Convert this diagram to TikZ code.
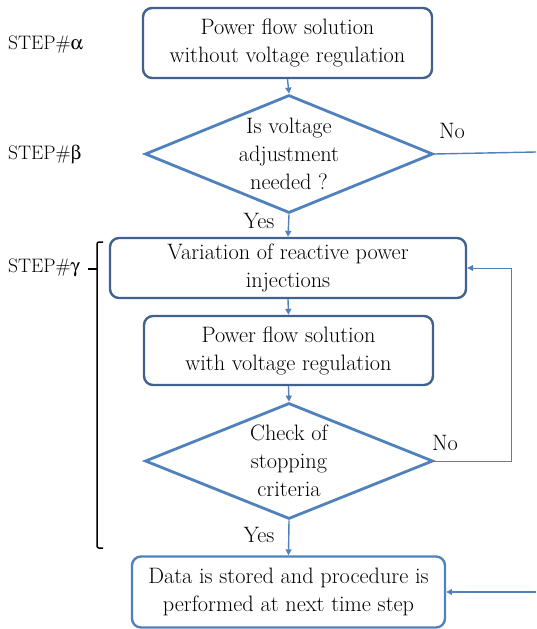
\documentclass[tikz,border=0pt]{standalone}
\usepackage{fontspec}
\usepackage[Symbol]{upgreek}
\usetikzlibrary{shapes.geometric,arrows.meta}
\definecolor{darkb}{HTML}{41628F}
\definecolor{lightb}{HTML}{4F81BD}
\begin{document}
\begin{tikzpicture}[x=1pt,y=-1pt,
  txt/.style={font=\fontsize{22.3}{28}\selectfont},
  boxd/.style={draw=darkb,line width=2.4pt,rounded corners=9pt,inner sep=0pt,align=center,txt},
  boxl/.style={draw=lightb,line width=2.4pt,rounded corners=9pt,inner sep=0pt,align=center,txt},
  dia/.style={draw=lightb,line width=2.8pt,diamond,shape aspect=2.44,minimum width=288pt,minimum height=118pt,inner sep=0pt,align=center,txt},
  arr/.style={draw=lightb,line width=1.4pt,-{Triangle[length=6pt,width=6pt]}},
  thin/.style={draw=lightb,line width=1pt},
  lbl/.style={txt,inner sep=0pt},
  steplbl/.style={font=\fontsize{19.5}{24}\selectfont,inner sep=0pt,anchor=west}]
\useasboundingbox (0,0) rectangle (536,629);
\node[boxd,minimum width=289pt,minimum height=70pt] (b1) at (287.5,43) {Power flow solution\\without voltage regulation};
\node[dia] (d1) at (289,154) {Is voltage\\adjustment\\needed ?};
\node[boxd,minimum width=356pt,minimum height=60pt] (b2) at (288,268) {Variation of reactive power\\injections};
\node[boxd,minimum width=289pt,minimum height=69pt] (b3) at (288.5,350.5) {Power flow solution\\with voltage regulation};
\node[dia,minimum height=116pt] (d2) at (289,461) {Check of\\stopping\\criteria};
\node[boxl,minimum width=313pt,minimum height=71pt] (b4) at (288.5,592) {Data is stored and procedure is\\performed at next time step};
\node[steplbl] (sa) at (8,45) {STEP\#$\upalpha$};
\node[steplbl] (sb) at (8,155) {STEP\#$\upbeta$};
\node[steplbl] (sg) at (8,268) {STEP\#$\upgamma$};
\node[lbl] (no1) at (452,131) {No};
\node[lbl] (no2) at (445,443) {No};
\node[lbl] (y1) at (259,221) {Yes};
\node[lbl] (y2) at (259,535) {Yes};
\coordinate (e1) at (536,152);
\coordinate (e2) at (536,592);
\coordinate (fb) at (511,461);
\draw[arr] (b1.south) -- (d1.north);
\draw[arr] (d1.south) -- (b2.north);
\draw[arr] (b2.south) -- (b3.north);
\draw[arr] (b3.south) -- (d2.north);
\draw[arr] (d2.south) -- (b4.north);
\draw[draw=lightb,line width=1.4pt] (d1.east) -- (e1);
\draw[arr] (e2) -- (b4.east);
\draw[thin,-{Triangle[length=6pt,width=6pt]}] (d2.east) -- (fb) |- (b2.east);
\draw[black,line width=1.5pt,rounded corners=2pt] (103,242) -- (97,242) -- (97,548) -- (103,548);
\draw[black,line width=1.5pt] (88,269) -- (97,269);
\end{tikzpicture}
\end{document}
